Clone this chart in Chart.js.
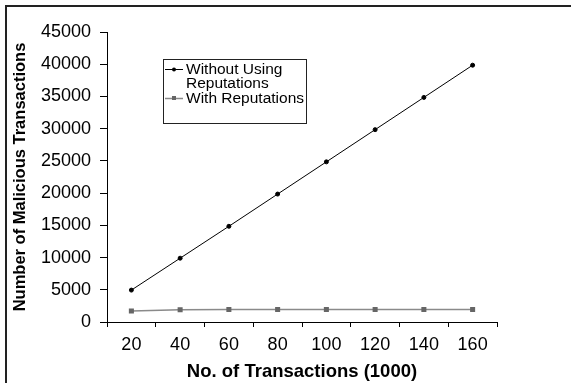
<!DOCTYPE html>
<html>
<head>
<meta charset="utf-8">
<script src="https://cdn.jsdelivr.net/npm/chart.js@4"></script>
<style>
    html, body { margin: 0; padding: 0; background: #fff; overflow: hidden; }
    #wrap { position: relative; width: 571px; height: 383px; }
    #marco {
        position: absolute; left: 5px; top: 5px; width: 620px; height: 420px;
        border: 2px solid #222; box-sizing: border-box;
    }
    canvas { position: absolute; left: 0; top: 0; }
</style>
</head>
<body>
<div id="wrap">
    <div id="marco"></div>
    <canvas id="grafico" width="571" height="383"></canvas>
</div>
<script>
// Datos
const categorias = ['20', '40', '60', '80', '100', '120', '140', '160'];
const sinReputacion = [4950, 9900, 14850, 19850, 24850, 29850, 34850, 39850];
const conReputacion = [1700, 1900, 1950, 1950, 1950, 1950, 1950, 1950];
const etiquetasLeyenda = [['Without Using', 'Reputations'], ['With Reputations']];

const fuente = 'Liberation Sans, Arial, Helvetica, sans-serif';

// Leyenda propia (Chart.js no hace etiquetas de dos lineas)
const leyendaPlugin = {
    id: 'leyendaCaja',
    afterDraw(chart) {
        const ctx = chart.ctx;
        const x = 163, y = 59, w = 143, h = 64;
        ctx.save();
        ctx.strokeStyle = '#222';
        ctx.lineWidth = 1;
        ctx.strokeRect(x + 0.5, y + 0.5, w, h);
        ctx.font = '15.5px ' + fuente;
        ctx.textBaseline = 'middle';
        ctx.fillStyle = '#000';
        const filas = [69, 98];
        chart.data.datasets.forEach((ds, i) => {
            const fy = filas[i];
            ctx.strokeStyle = ds.borderColor;
            ctx.lineWidth = ds.borderWidth;
            ctx.beginPath();
            ctx.moveTo(165, fy + 0.5);
            ctx.lineTo(183, fy + 0.5);
            ctx.stroke();
            ctx.fillStyle = ds.pointBackgroundColor;
            if (ds.pointStyle === 'rect') {
                ctx.fillRect(172, fy - 2, 4, 4);
            } else {
                ctx.beginPath();
                ctx.arc(174, fy + 0.5, 2, 0, Math.PI * 2);
                ctx.fill();
            }
            ctx.fillStyle = '#000';
            etiquetasLeyenda[i].forEach((t, j) => {
                ctx.fillText(t, 186, fy + 1 + j * 13.5);
            });
        });
        ctx.restore();
    }
};

new Chart(document.getElementById('grafico'), {
    type: 'line',
    data: {
        labels: categorias,
        datasets: [{
            label: 'Without Using Reputations',
            data: sinReputacion,
            borderColor: '#000',
            backgroundColor: '#000',
            pointBackgroundColor: '#000',
            pointBorderColor: '#000',
            borderWidth: 1,
            pointRadius: 2,
            pointStyle: 'circle',
            tension: 0
        }, {
            label: 'With Reputations',
            data: conReputacion,
            borderColor: '#8a8a8a',
            backgroundColor: '#666',
            pointBackgroundColor: '#666',
            pointBorderColor: '#666',
            borderWidth: 1.5,
            pointRadius: 2.5,
            pointStyle: 'rect',
            tension: 0
        }]
    },
    options: {
        responsive: false,
        animation: false,
        layout: { padding: { top: 32, right: 74, left: 0, bottom: 0 } },
        plugins: {
            legend: { display: false },
            tooltip: { enabled: false }
        },
        scales: {
            x: {
                type: 'category',
                offset: true,
                afterFit(scale) { scale.height = 61; },
                grid: {
                    offset: true,
                    drawOnChartArea: false,
                    drawTicks: true,
                    tickLength: 5,
                    color: '#000'
                },
                border: { color: '#000', width: 1 },
                ticks: {
                    color: '#000',
                    padding: 7,
                    maxRotation: 0,
                    font: { family: fuente, size: 18 }
                },
                title: {
                    display: true,
                    text: 'No. of Transactions (1000)',
                    color: '#000',
                    padding: { top: 3, bottom: 0 },
                    font: { family: fuente, size: 18.5, weight: 'bold' }
                }
            },
            y: {
                min: 0,
                max: 45000,
                afterFit(scale) { scale.width = 107; },
                grid: {
                    drawOnChartArea: false,
                    drawTicks: true,
                    tickLength: 7,
                    color: '#000'
                },
                border: { color: '#000', width: 1 },
                ticks: {
                    stepSize: 5000,
                    color: '#000',
                    padding: 9,
                    font: { family: fuente, size: 18 },
                    callback: v => String(v)
                },
                title: {
                    display: true,
                    text: 'Number of Malicious Transactions',
                    color: '#000',
                    padding: { top: 11, bottom: 0 },
                    font: { family: fuente, size: 16.5, weight: 'bold' }
                }
            }
        }
    },
    plugins: [leyendaPlugin]
});
</script>
</body>
</html>
